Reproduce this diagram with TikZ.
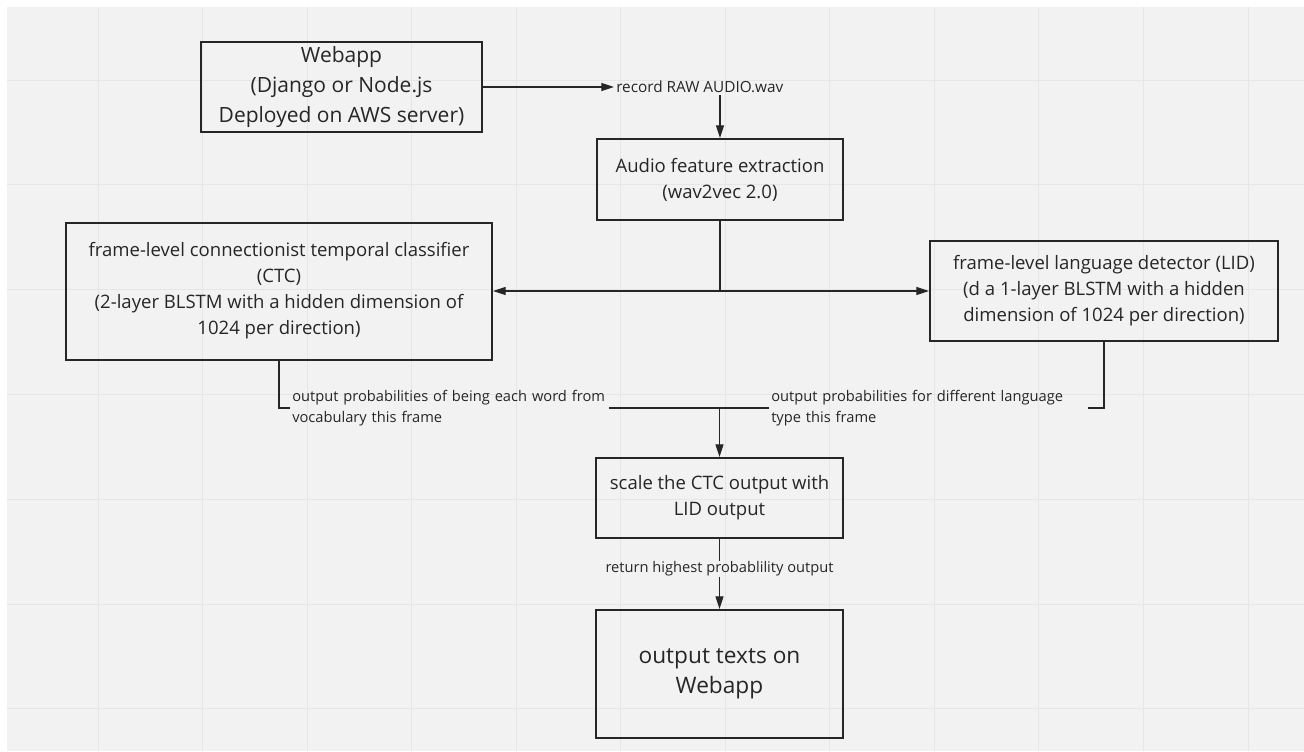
\documentclass[tikz,border=0pt]{standalone}
\usepackage{fontspec}
\setmainfont{Open Sans}
\usetikzlibrary{arrows.meta}
\definecolor{bgc}{HTML}{F2F2F2}
\definecolor{gridc}{HTML}{E6E6E6}
\definecolor{ink}{HTML}{262626}

\begin{document}
\begin{tikzpicture}[x=0.75pt,y=-0.75pt,
                box/.style={draw=ink,line width=1.5pt,align=center,text=ink,inner sep=0pt,font=\fontsize{13.9}{19.5}\selectfont},
                lbl/.style={text=ink,inner sep=1.5pt,font=\fontsize{11}{15.75}\selectfont},
                link/.style={draw=ink,line width=0.9pt},
                >={Triangle[length=9.5pt,width=6pt]}]
                \useasboundingbox (0,0) rectangle (1304,751);
                \fill[white] (0,0) rectangle (1304,751);
                \fill[bgc] (7,7) rectangle (1304,751);
                \foreach \i in {0,...,11}
                    \draw[gridc,line width=0.75pt] ({98+104.55*\i},7) -- ({98+104.55*\i},751);
                \foreach \j in {0,...,6}
                    \draw[gridc,line width=0.75pt] (7,{80+104.8*\j}) -- (1304,{80+104.8*\j});
                \node[box,minimum width=210.75pt,minimum height=67.5pt,font=\fontsize{15.75}{22.5}\selectfont] (A) at (341.5,87) {Webapp\\(Django or Node.js\\Deployed on AWS server)};
                \node[lbl,anchor=west,font=\fontsize{11.5}{15.75}\selectfont] (R) at (614,87) {record RAW AUDIO.wav};
                \node[box,minimum width=184.5pt,minimum height=60.75pt] (B) at (720,179.5) {Audio feature extraction\\(wav2vec 2.0)};
                \node[box,minimum width=319.5pt,minimum height=102.75pt] (C) at (279,291) {frame-level connectionist temporal classifier\\(CTC)\\(2-layer BLSTM with a hidden dimension of\\1024 per direction)};
                \node[box,minimum width=261pt,minimum height=75pt] (D) at (1104,291) {frame-level language detector (LID)\\(d a 1-layer BLSTM with a hidden\\dimension of 1024 per direction)};
                \node[box,minimum width=185.25pt,minimum height=60pt] (E) at (719.5,498) {scale the CTC output with\\LID output};
                \node[box,minimum width=185.25pt,minimum height=96pt,font=\fontsize{17}{22.5}\selectfont] (F) at (719.5,674) {output texts on\\Webapp};
                \node[lbl,anchor=west,text width=236pt] (G) at (290,408) {output probabilities of being each word from\\vocabulary this frame};
                \node[lbl,anchor=west,text width=236pt] (H) at (769,408) {output probabilities for different language\\type this frame};
                \node[lbl,inner ysep=0.5pt] (I) at (719.5,569) {return highest probablility output};
                \coordinate (K) at (B.south |- C.east);
                \coordinate (J) at (E.north |- G.west);
                \draw[link,->] (A.east |- R.west) -- (R.west);
                \draw[link,->] (R.south -| B.north) -- (B.north);
                \draw[link] (B.south) -- (K);
                \draw[link,->] (K) -- (C.east);
                \draw[link,->] (K) -- (D.west);
                \draw[link] (C.south) |- (G.west);
                \draw[link] (G.east) -- (J);
                \draw[link] (D.south) |- (H.east);
                \draw[link] (H.west) -- (J);
                \draw[link,->] (J) -- (E.north);
                \draw[link] (E.south) -- (I.north);
                \draw[link,->] (I.south) -- (F.north);
            \end{tikzpicture}
\end{document}
